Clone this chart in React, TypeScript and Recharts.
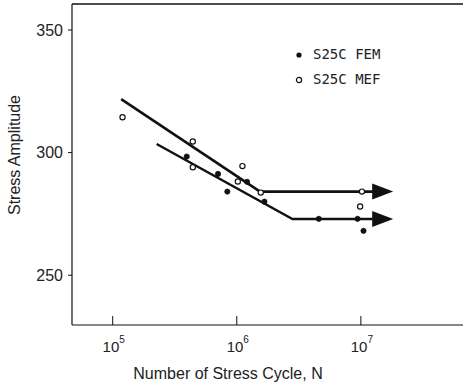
import React from 'react';
import { ComposedChart, Scatter, XAxis, YAxis, Legend, ReferenceLine } from 'recharts';

// Measured data (N = number of stress cycles, y = stress amplitude)
const femPoints = [
  { x: 395000, y: 298.4 },
  { x: 706000, y: 291.3 },
  { x: 839000, y: 284.1 },
  { x: 1210000, y: 288.1 },
  { x: 1670000, y: 280.0 },
  { x: 4580000, y: 273.0 },
  { x: 9400000, y: 273.0 },
  { x: 10500000, y: 268.1 },
];

const mefPoints = [
  { x: 120000, y: 314.4 },
  { x: 442000, y: 304.5 },
  { x: 442000, y: 294.0 },
  { x: 1110000, y: 294.5 },
  { x: 1020000, y: 288.2 },
  { x: 1560000, y: 283.7 },
  { x: 10200000, y: 284.1 },
  { x: 9860000, y: 278.0 },
];

// S-N fitted lines (knee, then endurance limit)
const upperLine = [
  { x: 117000, y: 321.8 },
  { x: 1540000, y: 284.1 },
  { x: 12560000, y: 284.1 },
];

const lowerLine = [
  { x: 226000, y: 303.5 },
  { x: 2810000, y: 272.9 },
  { x: 12560000, y: 272.9 },
];

// arrow heads at the end of the endurance lines
const arrowHeads = [
  { x: 12560000, y: 284.1 },
  { x: 12560000, y: 272.9 },
];

const xTicks = [100000, 1000000, 10000000];
const yTicks = [250, 300, 350];
const xDomain = [47000, 66500000];
const yDomain = [229.7, 360.6];

const legendItems = ['S25C FEM', 'S25C MEF'];

const INK = '#111';
const SANS = '"Liberation Sans", Arial, sans-serif';
const MONO = '"DejaVu Sans Mono", monospace';

const FemDot = (props: any) => {
  const { cx, cy } = props;
  if (cx == null || cy == null) return null;
  return <circle cx={cx} cy={cy} r={2.6} fill={INK} stroke={INK} strokeWidth={0.8} />;
};

const MefDot = (props: any) => {
  const { cx, cy } = props;
  if (cx == null || cy == null) return null;
  return <circle cx={cx} cy={cy} r={2.6} fill="#fff" stroke={INK} strokeWidth={1.2} />;
};

const NoDot = () => null;

const Arrow = (props: any) => {
  const { cx, cy } = props;
  if (cx == null || cy == null) return null;
  return <polygon points={`${cx - 1},${cy - 8} ${cx + 20},${cy} ${cx - 1},${cy + 8}`} fill={INK} />;
};

const XTick = (props: any) => {
  const { x, y, payload } = props;
  const exp = Math.round(Math.log10(payload.value));
  return (
    <g>
      <line x1={x} y1={y} x2={x} y2={y - 9} stroke={INK} strokeWidth={1} />
      <text x={x + 1} y={y + 27} textAnchor="middle" fontSize={15} fontFamily={SANS} fill="#222">
        <tspan>10</tspan>
        <tspan dy={-9} fontSize={10}>{exp}</tspan>
      </text>
    </g>
  );
};

const LegendContent = () => (
  <div style={{ fontFamily: MONO, fontSize: 14, color: '#222', lineHeight: '25px' }}>
    {legendItems.map((label, i) => (
      <div key={label} style={{ display: 'flex', alignItems: 'center', height: 25 }}>
        <svg width={20} height={10} style={{ display: 'block' }}>
          {i === 0 ? (
            <circle cx={6} cy={5} r={2.6} fill={INK} />
          ) : (
            <circle cx={6} cy={5} r={2.6} fill="#fff" stroke={INK} strokeWidth={1.2} />
          )}
        </svg>
        <span>{label}</span>
      </div>
    ))}
  </div>
);

export default function App() {
  return (
    <div style={{ position: 'absolute', left: 0, top: 0, background: '#fff' }}>
      <ComposedChart width={463} height={385} margin={{ top: 4, right: 0, bottom: 0, left: 0 }}>
        <XAxis
          type="number"
          dataKey="x"
          scale="log"
          domain={xDomain}
          allowDataOverflow
          ticks={xTicks}
          tick={<XTick />}
          tickSize={0}
          tickMargin={0}
          height={60}
          axisLine={{ stroke: INK, strokeWidth: 1.2 }}
          tickLine={false}
          label={{
            value: 'Number of Stress Cycle, N',
            content: (p: any) => {
              const vb = p.viewBox;
              return (
                <text x={228} y={vb.y + 54} textAnchor="middle" fontSize={16} fontFamily={SANS} fill="#222">
                  Number of Stress Cycle, N
                </text>
              );
            },
          }}
        />
        <YAxis
          type="number"
          dataKey="y"
          domain={yDomain}
          allowDataOverflow
          ticks={yTicks}
          width={72}
          tickSize={4}
          tickMargin={5}
          tick={{ fontSize: 16, fontFamily: SANS, fill: '#222' }}
          axisLine={{ stroke: INK, strokeWidth: 1.2 }}
          tickLine={{ stroke: INK }}
          label={{
            value: 'Stress Amplitude',
            content: () => (
              <text
                x={20}
                y={155}
                transform="rotate(-90 20 155)"
                textAnchor="middle"
                fontSize={16}
                fontFamily={SANS}
                fill="#222"
              >
                Stress Amplitude
              </text>
            ),
          }}
        />
        <ReferenceLine y={yDomain[1]} stroke={INK} strokeWidth={1.5} />
        <Scatter
          data={upperLine}
          line={{ stroke: INK, strokeWidth: 2.6 }}
          shape={<NoDot />}
          isAnimationActive={false}
          legendType="none"
        />
        <Scatter
          data={lowerLine}
          line={{ stroke: INK, strokeWidth: 2.4 }}
          shape={<NoDot />}
          isAnimationActive={false}
          legendType="none"
        />
        <Scatter data={arrowHeads} shape={<Arrow />} isAnimationActive={false} legendType="none" />
        <Scatter name="S25C FEM" data={femPoints} shape={<FemDot />} isAnimationActive={false} />
        <Scatter name="S25C MEF" data={mefPoints} shape={<MefDot />} isAnimationActive={false} />
        <Legend
          layout="vertical"
          align="center"
          verticalAlign="middle"
          content={<LegendContent />}
          wrapperStyle={{ position: 'absolute', left: 293, top: 42, width: 120 }}
        />
      </ComposedChart>
    </div>
  );
}
